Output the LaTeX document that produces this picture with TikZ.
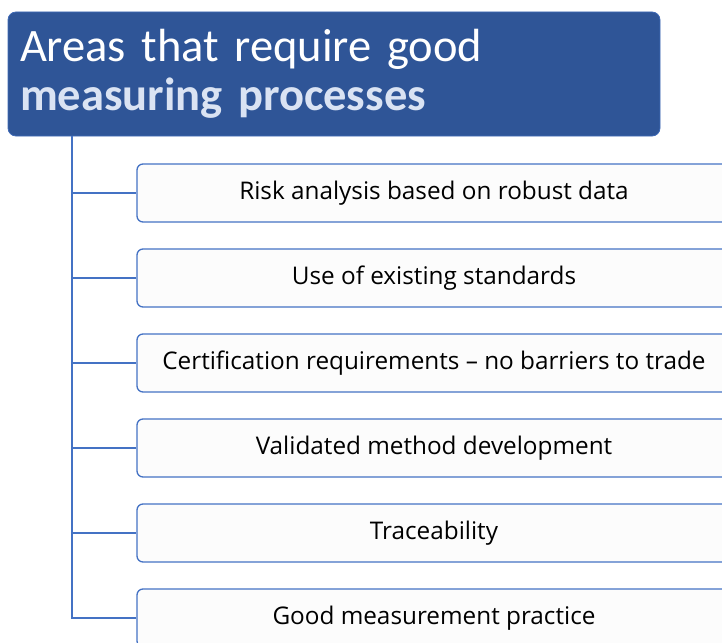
\documentclass[tikz,border=0pt]{standalone}
\usepackage{fontspec}
\setmainfont{Carlito}
\newfontfamily\leaffont{Open Sans}
\usepackage{tikz}
\usetikzlibrary{positioning}
\definecolor{headblue}{HTML}{2F5597}
\definecolor{lineblue}{HTML}{4472C4}
\definecolor{boldtxt}{HTML}{DAE3F3}
\definecolor{boxfill}{HTML}{FCFCFC}
\tikzset{
  headbox/.style={draw=lineblue!70!headblue, fill=headblue, rounded corners=8pt, line width=0.8pt,
    minimum width=652pt, minimum height=124pt, text width=628pt, align=left, inner sep=0pt,
    text=white, font=\fontsize{46.5}{49}\selectfont},
  leafbox/.style={draw=lineblue, fill=boxfill, rounded corners=6pt, line width=1.3pt,
    minimum width=594pt, minimum height=58pt, inner sep=0pt, font=\leaffont\fontsize{24.3}{28}\selectfont},
  link/.style={draw=lineblue, line width=1.3pt}
}
\begin{document}
\begin{tikzpicture}[x=1pt,y=-1pt]
\useasboundingbox (0,0) rectangle (722,642);
\clip (0,0) rectangle (722,642);
\node[headbox] (head) at (334,74) {Areas that require good\\{\bfseries\color{boldtxt}measuring processes}};
\coordinate (trunk) at (72,136);
\foreach \i/\txt in {1/Risk analysis based on robust data,
                     2/Use of existing standards,
                     3/Certification requirements – no barriers to trade,
                     4/Validated method development,
                     5/Traceability,
                     6/Good measurement practice} {
\node[leafbox] (leaf\i) at (434,{193+85*(\i-1)}) {\txt};
\draw[link] (trunk) |- (leaf\i.west);
}
\end{tikzpicture}
\end{document}
